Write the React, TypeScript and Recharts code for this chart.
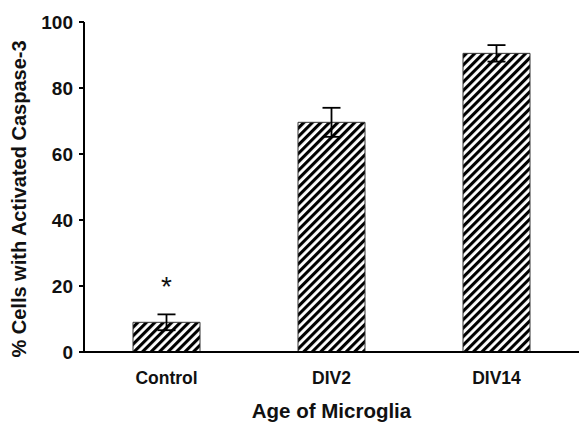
import { BarChart, Bar, XAxis, YAxis, ErrorBar, LabelList, Label } from "recharts";

const groups = ["Control", "DIV2", "DIV14"];
const means = [9.0, 69.6, 90.5];
const sem = [2.4, 4.4, 2.5];
const marks = ["*", "", ""];
const yTicks = [0, 20, 40, 60, 80, 100];

const data = groups.map((g, i) => ({
  group: g,
  value: means[i],
  err: sem[i],
  mark: marks[i],
}));

const font = "'Liberation Sans', Arial, sans-serif";

const StarLabel = (props: any) => {
  const { x, y, width, value } = props;
  if (!value) return null;
  return (
    <text
      x={x + width / 2}
      y={y - 26}
      textAnchor="middle"
      fontFamily={font}
      fontSize={28}
      fill="#111"
    >
      {value}
    </text>
  );
};

export default function App() {
  return (
    <div style={{ position: "absolute", left: 0, top: 0, background: "#fff" }}>
      <BarChart
        width={579}
        height={422}
        data={data}
        margin={{ top: 22, right: 0, left: 0, bottom: 0 }}
        barSize={67}
      >
        <defs>
          <pattern
            id="hatch"
            patternUnits="userSpaceOnUse"
            width={6}
            height={6}
            patternTransform="rotate(45)"
          >
            <rect width={6} height={6} fill="#fff" />
            <rect x={0} y={0} width={3.1} height={6} fill="#000" />
          </pattern>
        </defs>
        <XAxis
          dataKey="group"
          height={70}
          axisLine={{ stroke: "#000", strokeWidth: 2 }}
          tickLine={false}
          tickMargin={14}
          tick={{ fill: "#111", fontFamily: font, fontSize: 17.5, fontWeight: 700 }}
          interval={0}
        >
          <Label
            value="Age of Microglia"
            position="insideBottom"
            offset={4}
            style={{ fill: "#111", fontFamily: font, fontSize: 20.5, fontWeight: 700 }}
          />
        </XAxis>
        <YAxis
          domain={[0, 100]}
          ticks={yTicks}
          width={84}
          axisLine={{ stroke: "#000", strokeWidth: 2 }}
          tickLine={{ stroke: "#000", strokeWidth: 2 }}
          tickSize={5}
          tickMargin={6}
          tick={{ fill: "#111", fontFamily: font, fontSize: 19, fontWeight: 700 }}
        >
          <Label
            content={() => (
              <text
                x={26}
                y={199}
                transform="rotate(-90, 26, 199)"
                textAnchor="middle"
                fontFamily={font}
                fontSize={20}
                fontWeight={700}
                fill="#111"
              >
                % Cells with Activated Caspase-3
              </text>
            )}
          />
        </YAxis>
        <Bar
          dataKey="value"
          fill="url(#hatch)"
          stroke="#333"
          strokeWidth={1}
          isAnimationActive={false}
        >
          <ErrorBar dataKey="err" width={9} stroke="#000" strokeWidth={1.8} />
          <LabelList dataKey="mark" content={StarLabel} />
        </Bar>
      </BarChart>
    </div>
  );
}
